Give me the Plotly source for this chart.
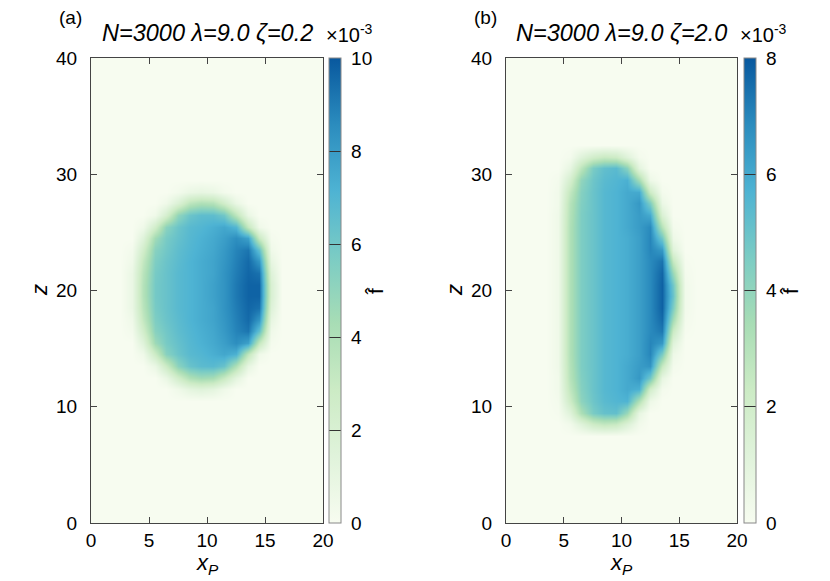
import numpy as np
import plotly.graph_objects as go

# grid (cell centres, 1 unit cells)
x_centers = np.arange(0.5, 20, 1.0)
z_centers = np.arange(0.5, 40, 1.0)

# ---------------------------------------------------------------- panel (a)
# f-hat in units of 1e-3, rows from z=28.5 down to z=11.5, cols x=3.5..15.5
a_x0, a_z_top = 3.5, 28.5
a_rows = [
    [0, 0, 0, 0, 0.3, 0.8, 1.0, 0.8, 0.3, 0, 0, 0, 0],
    [0, 0, 0, 0.5, 1.8, 3.5, 4.0, 3.8, 2.5, 0.8, 0, 0, 0],
    [0, 0, 0.5, 2.2, 5.0, 6.2, 6.6, 6.6, 6.0, 3.5, 0.8, 0, 0],
    [0, 0.5, 2.5, 5.2, 6.2, 6.8, 7.0, 7.3, 7.6, 7.0, 3.2, 0.5, 0],
    [0, 1.5, 4.5, 5.8, 6.4, 6.9, 7.2, 7.5, 7.9, 8.5, 7.8, 3.0, 0.2],
    [0.3, 2.5, 5.3, 6.0, 6.6, 7.0, 7.3, 7.6, 8.1, 8.8, 9.2, 6.5, 0.5],
    [0.5, 3.2, 5.6, 6.2, 6.7, 7.1, 7.4, 7.7, 8.2, 8.9, 9.5, 8.2, 1.0],
    [0.8, 3.6, 5.8, 6.3, 6.8, 7.1, 7.4, 7.7, 8.3, 9.0, 9.6, 9.3, 1.6],
    [0.8, 3.8, 5.9, 6.3, 6.8, 7.1, 7.4, 7.8, 8.3, 9.1, 9.7, 9.7, 2.0],
    [0.8, 3.8, 5.9, 6.3, 6.8, 7.1, 7.4, 7.8, 8.3, 9.1, 9.7, 9.7, 2.0],
    [0.8, 3.6, 5.8, 6.3, 6.8, 7.1, 7.4, 7.7, 8.3, 9.0, 9.6, 9.3, 1.6],
    [0.5, 3.2, 5.6, 6.2, 6.7, 7.1, 7.4, 7.7, 8.2, 8.9, 9.5, 8.2, 1.0],
    [0.3, 2.5, 5.3, 6.0, 6.6, 7.0, 7.3, 7.6, 8.1, 8.8, 9.2, 6.5, 0.5],
    [0, 1.5, 4.6, 5.8, 6.4, 6.9, 7.2, 7.5, 7.9, 8.5, 7.8, 3.2, 0.2],
    [0, 0.5, 2.8, 5.3, 6.2, 6.8, 7.0, 7.3, 7.6, 7.2, 3.4, 0.5, 0],
    [0, 0, 0.8, 2.8, 5.2, 6.3, 6.7, 6.8, 6.3, 4.0, 1.0, 0, 0],
    [0, 0, 0, 0.8, 2.5, 4.0, 4.5, 4.3, 3.0, 1.2, 0, 0, 0],
    [0, 0, 0, 0, 0.5, 1.2, 1.5, 1.2, 0.5, 0, 0, 0, 0],
]

# ---------------------------------------------------------------- panel (b)
# rows from z=31.5 down to z=8.5, cols x=4.5..15.5
b_x0, b_z_top = 4.5, 31.5
b_rows = [
    [0, 0.2, 1.2, 2.0, 2.4, 2.2, 1.2, 0.2, 0, 0, 0, 0],
    [0, 0.8, 2.8, 4.6, 5.2, 5.4, 4.2, 1.0, 0, 0, 0, 0],
    [0.2, 1.8, 4.0, 4.9, 5.4, 5.6, 5.8, 3.5, 0.5, 0, 0, 0],
    [0.3, 2.6, 4.3, 5.0, 5.5, 5.7, 6.0, 6.0, 2.2, 0.2, 0, 0],
    [0.3, 3.0, 4.4, 5.0, 5.5, 5.7, 6.0, 6.5, 4.5, 0.6, 0, 0],
    [0.4, 3.1, 4.5, 5.0, 5.5, 5.7, 6.0, 6.4, 6.0, 1.5, 0, 0],
    [0.4, 3.2, 4.5, 5.0, 5.5, 5.7, 6.0, 6.4, 6.9, 3.0, 0.2, 0],
    [0.4, 3.2, 4.5, 5.0, 5.5, 5.7, 5.9, 6.3, 7.0, 4.8, 0.5, 0],
    [0.4, 3.2, 4.5, 5.0, 5.5, 5.7, 5.9, 6.3, 7.0, 6.5, 1.2, 0],
    [0.4, 3.2, 4.5, 5.0, 5.5, 5.7, 5.9, 6.3, 6.9, 7.4, 2.5, 0.1],
    [0.4, 3.2, 4.5, 5.0, 5.5, 5.7, 5.9, 6.3, 6.9, 7.7, 3.8, 0.2],
    [0.4, 3.2, 4.5, 5.0, 5.5, 5.7, 5.9, 6.3, 6.9, 7.8, 4.8, 0.3],
    [0.4, 3.2, 4.5, 5.0, 5.5, 5.7, 5.9, 6.3, 6.9, 7.8, 5.0, 0.3],
    [0.4, 3.2, 4.5, 5.0, 5.5, 5.7, 5.9, 6.3, 6.9, 7.8, 4.5, 0.3],
    [0.4, 3.2, 4.5, 5.0, 5.5, 5.7, 5.9, 6.3, 6.9, 7.6, 3.5, 0.2],
    [0.4, 3.2, 4.5, 5.0, 5.5, 5.7, 5.9, 6.3, 6.9, 7.3, 2.3, 0.1],
    [0.4, 3.2, 4.5, 5.0, 5.5, 5.7, 5.9, 6.3, 7.0, 6.5, 1.2, 0],
    [0.4, 3.2, 4.5, 5.0, 5.5, 5.7, 5.9, 6.3, 7.0, 4.6, 0.5, 0],
    [0.4, 3.1, 4.5, 5.0, 5.5, 5.7, 6.0, 6.4, 6.6, 2.5, 0.2, 0],
    [0.3, 3.0, 4.4, 5.0, 5.5, 5.7, 6.0, 6.5, 4.8, 0.8, 0, 0],
    [0.3, 2.7, 4.3, 5.0, 5.5, 5.7, 6.0, 5.8, 2.0, 0.2, 0, 0],
    [0.2, 2.2, 4.1, 4.9, 5.4, 5.6, 5.7, 3.2, 0.5, 0, 0, 0],
    [0.1, 1.2, 3.3, 4.6, 5.1, 5.2, 3.8, 0.8, 0, 0, 0, 0],
    [0, 0.3, 1.2, 2.2, 2.6, 2.4, 1.4, 0.3, 0, 0, 0, 0],
]

titles = ["N=3000 λ=9.0 ζ=0.2", "N=3000 λ=9.0 ζ=2.0"]
panel_tags = ["(a)", "(b)"]
cbar_max = [10, 8]

# gnuplot GnBu palette
gnbu = ["#F7FCF0", "#E0F3DB", "#CCEBC5", "#A8DDB5",
        "#7BCCC4", "#4EB3D3", "#2B8CBE", "#08589E"]
cscale = [[i / 7, c] for i, c in enumerate(gnbu)]


def full_grid(rows, x0, z_top):
    grid = np.zeros((len(z_centers), len(x_centers)))
    ix0 = int(np.searchsorted(x_centers, x0))
    for k, row in enumerate(rows):
        iz = int(np.searchsorted(z_centers, z_top - k))
        grid[iz, ix0:ix0 + len(row)] = row
    return grid * 1e-3


grids = [full_grid(a_rows, a_x0, a_z_top), full_grid(b_rows, b_x0, b_z_top)]

W, H = 830, 581
OFF = 8  # page body margin
FONT = "Liberation Sans, Arial, sans-serif"


def px(v):
    return (v - OFF) / W


def py(v):
    return 1 - (v - OFF) / H


x_dom = [[px(91), px(323)], [px(506), px(737)]]
y_dom = [py(523), py(58)]
cb_x = [px(329), px(744)]

fig = go.Figure()
for i in range(2):
    sfx = "" if i == 0 else "2"
    fig.add_trace(go.Heatmap(
        x=x_centers, y=z_centers, z=grids[i],
        colorscale=cscale, zmin=0, zmax=cbar_max[i] * 1e-3,
        zsmooth="best",
        xaxis="x" + sfx, yaxis="y" + sfx,
        colorbar=dict(
            x=cb_x[i], xanchor="left", y=y_dom[0], yanchor="bottom",
            len=y_dom[1] - y_dom[0], lenmode="fraction",
            thickness=12, xpad=0, ypad=0,
            outlinewidth=1, outlinecolor="#888888",
            tickmode="array",
            tickvals=[v * 1e-3 for v in range(0, cbar_max[i] + 1, 2)],
            ticktext=["\u00a0" + str(v) for v in range(0, cbar_max[i] + 1, 2)],
            ticks="inside", ticklen=12, tickcolor="#333333",
            tickfont=dict(size=19, family=FONT, color="black"),
        ),
    ))

axis_style = dict(
    showline=True, linecolor="#444444", linewidth=1, mirror="ticks",
    ticks="inside", ticklen=6, tickcolor="#444444",
    showgrid=False, zeroline=False,
    tickfont=dict(size=19, family=FONT, color="black"),
)
fig.update_layout(
    xaxis=dict(domain=x_dom[0], range=[0, 20], dtick=5, anchor="y",
               ticklabelstandoff=0, **axis_style),
    yaxis=dict(domain=y_dom, range=[0, 40], dtick=10, anchor="x",
               ticklabelstandoff=9, **axis_style),
    xaxis2=dict(domain=x_dom[1], range=[0, 20], dtick=5, anchor="y2",
                ticklabelstandoff=0, **axis_style),
    yaxis2=dict(domain=y_dom, range=[0, 40], dtick=10, anchor="x2",
                ticklabelstandoff=9, **axis_style),
    width=W, height=H,
    margin=dict(l=0, r=0, t=0, b=0, autoexpand=False),
    paper_bgcolor="white", plot_bgcolor=gnbu[0],
    font=dict(family=FONT, color="black"),
)

ann = []
for i in range(2):
    xm = (x_dom[i][0] + x_dom[i][1]) / 2
    ann += [
        dict(text="<i>" + titles[i] + "</i>", x=xm, y=py(33),
             font=dict(size=23.5)),
        dict(text=panel_tags[i], x=x_dom[i][0] - 21 / W, y=py(18),
             font=dict(size=19)),
        dict(text="×10<sup>-3</sup>", x=cb_x[i] + 20 / W, y=py(34),
             font=dict(size=20)),
        dict(text="<i>x</i><sub><i>P</i></sub>", x=xm, y=py(564),
             font=dict(size=22)),
        dict(text="<i>z</i>", x=x_dom[i][0] - 51 / W, y=py(290), textangle=-90,
             font=dict(size=22)),
        dict(text="f\u0302", x=cb_x[i] + 46 / W, y=py(291), textangle=-90,
             font=dict(size=21)),
    ]
for a in ann:
    a.update(xref="paper", yref="paper", showarrow=False,
             xanchor="center", yanchor="middle")
fig.update_layout(annotations=ann)

fig.write_html("out.html")
